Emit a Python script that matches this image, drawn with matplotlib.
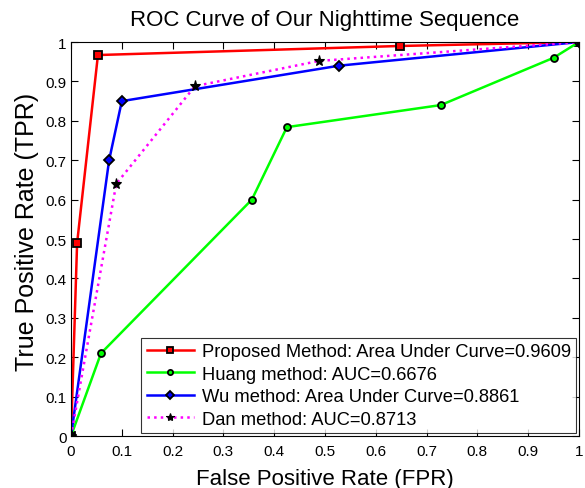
import numpy as np
import matplotlib.pyplot as plt

plt.rcParams['font.family'] = ['Liberation Sans', 'DejaVu Sans']

# ROC points
prop_fpr = [0, 0.012, 0.053, 0.648, 1]
prop_tpr = [0, 0.49, 0.967, 0.99, 1]

huang_fpr = [0, 0.059, 0.356, 0.425, 0.728, 0.95, 1]
huang_tpr = [0, 0.21, 0.60, 0.784, 0.84, 0.96, 1]

wu_fpr = [0, 0.075, 0.10, 0.528, 1]
wu_tpr = [0, 0.70, 0.85, 0.94, 1]

dan_fpr = [0, 0.089, 0.244, 0.488, 1]
dan_tpr = [0, 0.64, 0.888, 0.952, 1]

labels = ['Proposed Method: Area Under Curve=0.9609',
          'Huang method: AUC=0.6676',
          'Wu method: Area Under Curve=0.8861',
          'Dan method: AUC=0.8713']

fig = plt.figure(figsize=(5.85, 4.89), dpi=100)
ax = fig.add_axes([0.1214, 0.1063, 0.8683, 0.8057])

ax.plot(prop_fpr, prop_tpr, '-s', color='#ff0000', lw=1.8, ms=6,
        mfc='#ff0000', mec='black', mew=1.3, label=labels[0])
ax.plot(huang_fpr, huang_tpr, '-o', color='#00ff00', lw=1.8, ms=5,
        mfc='#00ff00', mec='black', mew=1.3, label=labels[1])
ax.plot(wu_fpr, wu_tpr, '-D', color='#0000ff', lw=1.8, ms=5,
        mfc='#0000ff', mec='black', mew=1.3, label=labels[2])
ax.plot(dan_fpr, dan_tpr, ':*', color='#ff00ff', lw=1.8, ms=8,
        mfc='black', mec='black', mew=0.8, label=labels[3])

ax.set_xlim(0, 1)
ax.set_ylim(0, 1)
ticks = np.arange(0, 1.01, 0.1)
tlabels = ['0'] + ['%.1f' % t for t in ticks[1:-1]] + ['1']
ax.set_xticks(ticks)
ax.set_xticklabels(tlabels)
ax.set_yticks(ticks)
ax.set_yticklabels(tlabels)
ax.tick_params(direction='in', top=True, right=True, labelsize=11, length=5)
ax.tick_params(axis='x', pad=6)
ax.tick_params(axis='y', pad=3)

ax.set_title('ROC Curve of Our Nighttime Sequence', fontsize=16, pad=12)
ax.set_xlabel('False Positive Rate (FPR)', fontsize=16, labelpad=7)
ax.set_ylabel('True Positive Rate (TPR)', fontsize=18)
ax.yaxis.set_label_coords(-0.063, 0.52)

leg = ax.legend(loc='lower right', fontsize=13.2, frameon=True, fancybox=False,
                edgecolor='black', handlelength=2.6, borderpad=0.3,
                labelspacing=0.3, handletextpad=0.4, borderaxespad=0.15,
                markerscale=0.75)
leg.get_frame().set_linewidth(0.8)

plt.savefig('out.png', dpi=100)
